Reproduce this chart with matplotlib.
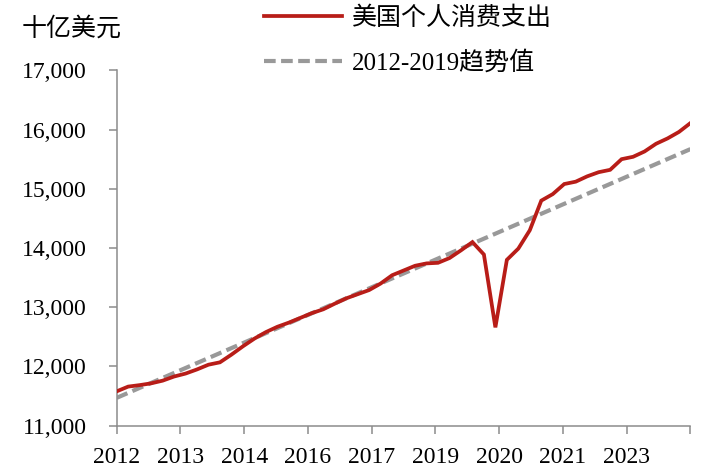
"""US personal consumption expenditure vs. 2012-2019 trend."""

import matplotlib
matplotlib.use("Agg")
import matplotlib.pyplot as plt
from matplotlib.ticker import FuncFormatter

plt.rcParams['font.family'] = ['Liberation Serif', 'Noto Sans CJK SC', 'DejaVu Sans']

# quarterly, 2012Q1 .. 2024Q3 (billions of USD)
pce = [11580, 11660, 11685, 11715, 11760, 11830, 11880, 11950, 12030, 12070,
       12200, 12340, 12470, 12580, 12670, 12740, 12820, 12900, 12965, 13060,
       13150, 13220, 13290, 13400, 13540, 13620, 13700, 13740, 13750, 13830,
       13960, 14100, 13890, 12660, 13800, 13990, 14300, 14800, 14910, 15080,
       15120, 15210, 15280, 15320, 15500, 15540, 15630, 15760, 15850, 15960,
       16110]
quarters = list(range(len(pce)))

# 2012-2019 trend line, start and end
trend_q = [0, 50]
trend_vals = [11470, 15670]

year_labels = ['2012', '2013', '2014', '2016', '2017', '2019', '2020', '2021', '2023', '']
y_ticks = [11000, 12000, 13000, 14000, 15000, 16000, 17000]

fig = plt.figure(figsize=(7.23, 4.71), dpi=100)
ax = fig.add_axes([0.1614, 0.0962, 0.7936, 0.7545])

ax.plot(quarters, pce, color='#B81D18', linewidth=2.7, label='美国个人消费支出',
        solid_joinstyle='miter', zorder=3)
ax.plot(trend_q, trend_vals, color='#999999', linewidth=3, dashes=(2.8, 1.3),
        dash_capstyle='butt', label='2012-2019趋势值', zorder=2)

ax.set_xlim(0, 50)
ax.set_ylim(11000, 17000)
n = len(year_labels)
ax.set_xticks([50 * k / (n - 1) for k in range(n)])
ax.set_xticklabels(year_labels)
ax.set_yticks(y_ticks)
ax.yaxis.set_major_formatter(FuncFormatter(lambda v, p: f'{v:,.0f}'))

for s in ['top', 'right']:
    ax.spines[s].set_visible(False)
for s in ['left', 'bottom']:
    ax.spines[s].set_color('#8c8c8c')
    ax.spines[s].set_linewidth(1.1)

ax.tick_params(axis='y', direction='out', length=5.5, width=1.1, color='#8c8c8c',
               labelsize=17, pad=16)
ax.tick_params(axis='x', direction='out', length=6, width=1.1, color='#8c8c8c',
               labelsize=17, pad=9)

fig.text(0.030, 0.94, '十亿美元', fontsize=18, va='center', ha='left')

ax.legend(loc='upper left', bbox_to_anchor=(0.341, 1.024), bbox_transform=fig.transFigure,
          frameon=False, fontsize=18, handlelength=3.1, handletextpad=0.4,
          labelspacing=0.85, borderpad=0.2)

fig.savefig('out.png', dpi=100, facecolor='white')
